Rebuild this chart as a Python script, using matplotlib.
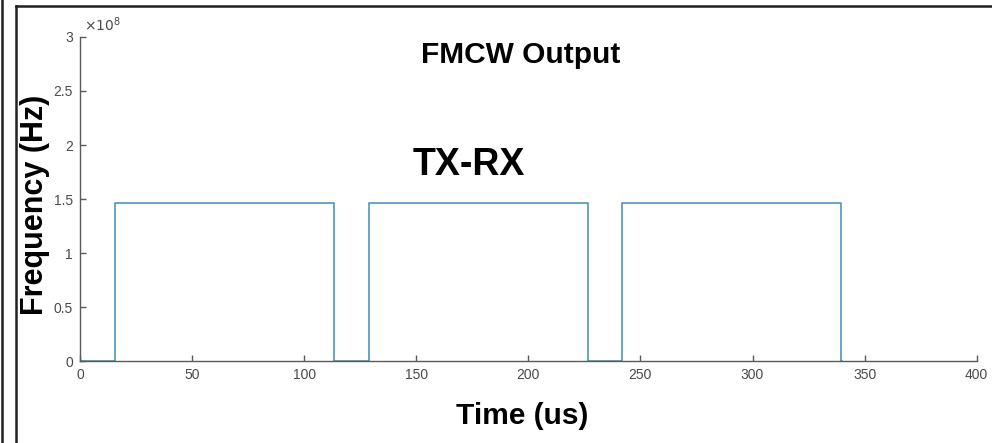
#!/usr/bin/env python3

import sys

from matplotlib import pyplot, ticker
from matplotlib.lines import Line2D


# Transition times (us) and frequency level (Hz) of the TX-RX beat output
RISE_US = [15.6, 128.9, 242.0]
FALL_US = [113.3, 226.5, 339.4]
END_US = 340.0
HIGH_HZ = 1.46e8

X_TICKS = [0, 50, 100, 150, 200, 250, 300, 350, 400]
Y_TICKS = [0, 0.5e8, 1e8, 1.5e8, 2e8, 2.5e8, 3e8]

LINE_COLOUR = '#3a8fb7'
AXIS_GREY = '#5a5a5a'


def build_trace():
    t = [0.0]
    f = [0.0]
    for rise, fall in zip(RISE_US, FALL_US):
        t += [rise, rise, fall, fall]
        f += [0.0, HIGH_HZ, HIGH_HZ, 0.0]
    t.append(END_US)
    f.append(0.0)
    return t, f


def plot():
    figure = pyplot.figure(figsize=(9.92, 4.43), dpi=100)
    axes = figure.add_axes([0.0806, 0.185, 0.904, 0.7315])

    # MATLAB-ish look: box off, grey axes, inward ticks
    axes.spines["right"].set_visible(False)
    axes.spines["top"].set_visible(False)
    for side in ("left", "bottom"):
        axes.spines[side].set_color(AXIS_GREY)
        axes.spines[side].set_linewidth(1.0)
    axes.tick_params(direction='in', length=4, width=1.0, colors=AXIS_GREY,
                     labelsize=10, labelcolor='#4a4a4a', pad=5)

    t, f = build_trace()
    axes.plot(t, f, color=LINE_COLOUR, linewidth=1.1)

    axes.set_xlim(0, 400)
    axes.set_ylim(0, 3e8)
    axes.set_xticks(X_TICKS)
    axes.set_yticks(Y_TICKS)
    axes.yaxis.set_major_formatter(
        ticker.FuncFormatter(lambda v, _: f"{v / 1e8:g}"))
    for label in axes.get_xticklabels() + axes.get_yticklabels():
        label.set_family('Liberation Sans')
    axes.text(0.004, 1.01, r"$\times10^{8}$", transform=axes.transAxes,
              fontsize=10, color='#4a4a4a', ha='left', va='bottom')

    bold = dict(family='Liberation Sans', weight='bold', color='black')
    figure.text(0.525, 0.875, "FMCW Output", fontsize=21.5, ha='center',
                va='center', **bold)
    figure.text(0.473, 0.627, "TX-RX", fontsize=27, ha='center',
                va='center', **bold)
    figure.text(0.526, 0.061, "Time (us)", fontsize=21.5, ha='center',
                va='center', **bold)
    figure.text(0.035, 0.537, "Frequency (Hz)", fontsize=22, ha='center',
                va='center', rotation=90, **bold)

    # Frame around the screenshot
    W, H = 992.0, 443.0
    frame = dict(color='#202020', linewidth=1.8, transform=figure.transFigure)
    figure.add_artist(Line2D([16 / W, 1.0], [1 - 6 / H, 1 - 6 / H], **frame))
    figure.add_artist(Line2D([16 / W, 16 / W], [0.0, 1 - 6 / H], **frame))
    figure.add_artist(Line2D([1.5 / W, 1.5 / W], [0.0, 1.0], **frame))

    figure.savefig("out.png", dpi=100)


def main() -> int:
    plot()
    return 0


if __name__ == '__main__':
    sys.exit(main())
